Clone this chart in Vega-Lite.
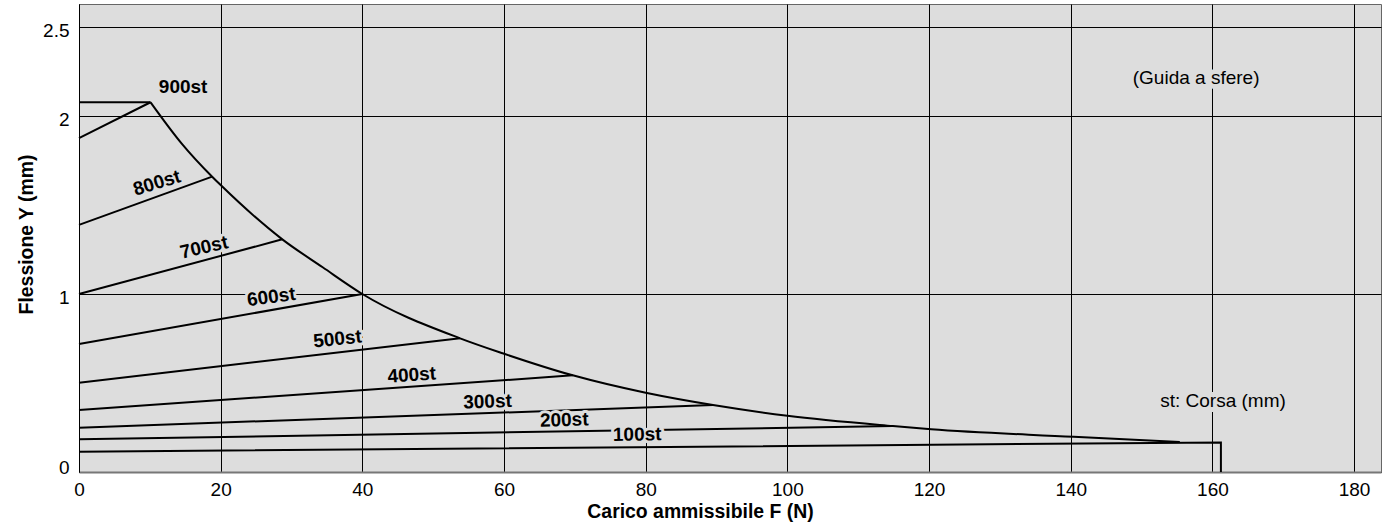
{
  "$schema": "https://vega.github.io/schema/vega-lite/v6.json",
  "width": 1302,
  "height": 468,
  "autosize": {"type": "none"},
  "padding": {"left": 79, "top": 4, "right": 12, "bottom": 55},
  "background": "white",
  "config": {
    "font": "Liberation Sans",
    "view": {"fill": "#dddddd", "stroke": "#666666", "strokeWidth": 1}
  },
  "datasets": {
    "lines": [
      {"s": "cap", "F": 0, "Y": 2.077, "i": 0}, {"s": "cap", "F": 10.1, "Y": 2.077, "i": 1},
      {"s": "900st", "F": 0, "Y": 1.875, "i": 0}, {"s": "900st", "F": 10.1, "Y": 2.077, "i": 1},
      {"s": "800st", "F": 0, "Y": 1.388, "i": 0}, {"s": "800st", "F": 18.8, "Y": 1.659, "i": 1},
      {"s": "700st", "F": 0, "Y": 1.0, "i": 0}, {"s": "700st", "F": 28.7, "Y": 1.307, "i": 1},
      {"s": "600st", "F": 0, "Y": 0.719, "i": 0}, {"s": "600st", "F": 40, "Y": 1.0, "i": 1},
      {"s": "500st", "F": 0, "Y": 0.502, "i": 0}, {"s": "500st", "F": 53.8, "Y": 0.751, "i": 1},
      {"s": "400st", "F": 0, "Y": 0.348, "i": 0}, {"s": "400st", "F": 69.7, "Y": 0.543, "i": 1},
      {"s": "300st", "F": 0, "Y": 0.249, "i": 0}, {"s": "300st", "F": 89.5, "Y": 0.376, "i": 1},
      {"s": "200st", "F": 0, "Y": 0.184, "i": 0}, {"s": "200st", "F": 114.9, "Y": 0.258, "i": 1},
      {"s": "100st", "F": 0, "Y": 0.114, "i": 0}, {"s": "100st", "F": 161.2, "Y": 0.166, "i": 1}, {"s": "100st", "F": 161.2, "Y": 0, "i": 2}
    ],
    "envelope": [
      {"F": 10.1, "Y": 2.077}, {"F": 14.5, "Y": 1.845}, {"F": 18.8, "Y": 1.659}, {"F": 20, "Y": 1.612},
      {"F": 28.7, "Y": 1.307}, {"F": 34.4, "Y": 1.15}, {"F": 40, "Y": 1.0}, {"F": 53.8, "Y": 0.751},
      {"F": 59.8, "Y": 0.667}, {"F": 69.7, "Y": 0.543}, {"F": 80, "Y": 0.445}, {"F": 89.5, "Y": 0.376},
      {"F": 100, "Y": 0.316}, {"F": 114.9, "Y": 0.258}, {"F": 120.3, "Y": 0.24}, {"F": 140.4, "Y": 0.198},
      {"F": 155.4, "Y": 0.168}
    ],
    "labels": [
      {"t": "900st", "F": 14.7, "Y": 2.163},
      {"t": "800st", "F": 11.0, "Y": 1.624},
      {"t": "700st", "F": 17.65, "Y": 1.262},
      {"t": "600st", "F": 27.15, "Y": 0.983},
      {"t": "500st", "F": 36.5, "Y": 0.747},
      {"t": "400st", "F": 46.97, "Y": 0.545},
      {"t": "300st", "F": 57.67, "Y": 0.395},
      {"t": "200st", "F": 68.5, "Y": 0.292},
      {"t": "100st", "F": 78.8, "Y": 0.21}
    ],
    "notes": [
      {"t": "(Guida a sfere)", "F": 157.7, "Y": 2.216},
      {"t": "st: Corsa (mm)", "F": 161.5, "Y": 0.399}
    ]
  },
  "encoding": {
    "x": {
      "field": "F", "type": "quantitative",
      "scale": {"domain": [0, 183.8], "nice": false, "zero": false},
      "axis": {
        "title": "Carico ammissibile F (N)",
        "values": [0, 20, 40, 60, 80, 100, 120, 140, 160, 180],
        "grid": true, "gridColor": "#000000", "gridWidth": 1, "gridOpacity": 1,
        "ticks": false, "tickSize": 0,
        "labelFontSize": 19, "labelColor": "#000000", "labelFlush": false,
        "labelBaseline": "alphabetic", "labelPadding": 23,
        "domainColor": "#777777", "domainWidth": 2,
        "titleFontSize": 19.4, "titleFontWeight": "bold", "titleColor": "#000000",
        "titleX": 621, "titleY": 45, "titleBaseline": "alphabetic", "titleAlign": "center"
      }
    },
    "y": {
      "field": "Y", "type": "quantitative",
      "scale": {"domain": [0, 2.629], "nice": false, "zero": false},
      "axis": {
        "title": "Flessione Y (mm)",
        "values": [0, 1, 2, 2.5], "format": "~g",
        "grid": true, "gridColor": "#000000", "gridWidth": 1, "gridOpacity": 1,
        "ticks": false, "tickSize": 0,
        "labelFontSize": 19, "labelColor": "#000000", "labelFlush": false,
        "labelBaseline": "alphabetic", "labelPadding": 10,
        "labelOffset": {"condition": {"test": "datum.value == 0", "value": 1}, "value": 10},
        "domainColor": "#000000", "domainWidth": 1,
        "titleFontSize": 19.4, "titleFontWeight": "bold", "titleColor": "#000000",
        "titleX": -53, "titleY": 230, "titleBaseline": "middle", "titleAngle": 270, "titleAlign": "center"
      }
    }
  },
  "layer": [
    {
      "data": {"name": "lines"},
      "mark": {"type": "line", "color": "#000000", "strokeWidth": 2, "interpolate": "linear"},
      "encoding": {"detail": {"field": "s", "type": "nominal"}, "order": {"field": "i", "type": "quantitative"}}
    },
    {
      "data": {"name": "envelope"},
      "mark": {"type": "line", "color": "#000000", "strokeWidth": 2, "interpolate": "monotone"},
      "encoding": {}
    },
    {
      "data": {"name": "labels"},
      "mark": {"type": "text", "fontWeight": "bold", "fontSize": 19, "align": "center", "baseline": "middle", "fill": "#dddddd", "stroke": "#dddddd", "strokeWidth": 6, "strokeJoin": "round"},
      "encoding": {
        "text": {"field": "t", "type": "nominal"},
        "angle": {"condition": [
          {"test": "datum.t == '800st'", "value": 343},
          {"test": "datum.t == '700st'", "value": 347},
          {"test": "datum.t == '600st'", "value": 352},
          {"test": "datum.t == '500st'", "value": 354},
          {"test": "datum.t == '400st'", "value": 356},
          {"test": "datum.t == '300st' || datum.t == '200st'", "value": 358},
          {"test": "datum.t == '100st'", "value": 359}
        ], "value": 0}
      }
    },
    {
      "data": {"name": "labels"},
      "mark": {"type": "text", "fontWeight": "bold", "fontSize": 19, "align": "center", "baseline": "middle", "fill": "#000000"},
      "encoding": {
        "text": {"field": "t", "type": "nominal"},
        "angle": {"condition": [
          {"test": "datum.t == '800st'", "value": 343},
          {"test": "datum.t == '700st'", "value": 347},
          {"test": "datum.t == '600st'", "value": 352},
          {"test": "datum.t == '500st'", "value": 354},
          {"test": "datum.t == '400st'", "value": 356},
          {"test": "datum.t == '300st' || datum.t == '200st'", "value": 358},
          {"test": "datum.t == '100st'", "value": 359}
        ], "value": 0}
      }
    },
    {
      "data": {"name": "notes"},
      "mark": {"type": "text", "fontSize": 19, "align": "center", "baseline": "middle", "fill": "#dddddd", "stroke": "#dddddd", "strokeWidth": 10, "strokeJoin": "round"},
      "encoding": {"text": {"field": "t", "type": "nominal"}}
    },
    {
      "data": {"name": "notes"},
      "mark": {"type": "text", "fontSize": 19, "align": "center", "baseline": "middle", "fill": "#000000"},
      "encoding": {"text": {"field": "t", "type": "nominal"}}
    }
  ]
}
